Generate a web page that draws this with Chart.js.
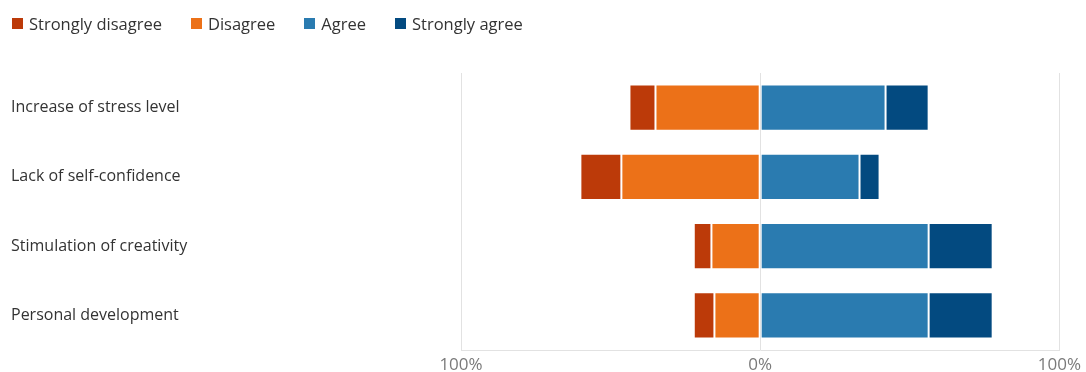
<!DOCTYPE html>
<html>
<head>
<meta charset="utf-8">
<script src="https://cdn.jsdelivr.net/npm/chart.js@4.4.1/dist/chart.umd.min.js"></script>
<style>
  html, body { margin: 0; padding: 0; background: #fff; }
  #wrap { position: relative; width: 1086px; height: 372px; }
  #legend { position: absolute; left: 12px; top: 12px; display: flex; font-family: "Open Sans", sans-serif; font-size: 16.5px; color: #333; }
  #legend .item { display: flex; align-items: center; margin-right: 29px; }
  #legend .box { width: 11px; height: 11px; margin-right: 6px; }
  canvas { position: absolute; left: 0; top: 0; }
</style>
</head>
<body>
<div id="wrap">
  <canvas id="c" width="1086" height="372"></canvas>
  <div id="legend"></div>
</div>
<script>
// Survey items, top to bottom
const categories = ["Increase of stress level", "Lack of self-confidence", "Stimulation of creativity", "Personal development"];

// Share of answers per item, in percent
const stronglyDisagree = [8.7, 13.7, 5.9, 6.9];
const disagree = [35.0, 46.4, 16.3, 15.3];
const agree = [41.9, 33.2, 56.3, 56.3];
const stronglyAgree = [14.4, 6.7, 21.4, 21.4];

const axisTicks = [-100, 0, 100];

const seriesNames = ["Strongly disagree", "Disagree", "Agree", "Strongly agree"];
const seriesColors = ["#bc3a09", "#ec7118", "#2a7bb0", "#034a80"];

// Legend in reading order
const legendEl = document.getElementById('legend');
seriesNames.forEach((name, i) => {
  const item = document.createElement('div');
  item.className = 'item';
  const box = document.createElement('span');
  box.className = 'box';
  box.style.background = seriesColors[i];
  const label = document.createElement('span');
  label.textContent = name;
  item.appendChild(box);
  item.appendChild(label);
  legendEl.appendChild(item);
});

const neg = arr => arr.map(v => -v);
const border = 'rgba(255,255,255,0.45)';

// Disagree sits next to zero, strongly disagree stacks outward from it
const datasets = [
  { label: seriesNames[1], data: neg(disagree), backgroundColor: seriesColors[1] },
  { label: seriesNames[0], data: neg(stronglyDisagree), backgroundColor: seriesColors[0] },
  { label: seriesNames[2], data: agree, backgroundColor: seriesColors[2] },
  { label: seriesNames[3], data: stronglyAgree, backgroundColor: seriesColors[3] }
].map(d => Object.assign(d, { borderColor: border, borderWidth: 1, borderSkipped: false, categoryPercentage: 1, barPercentage: 0.667 }));

new Chart(document.getElementById('c'), {
  type: 'bar',
  data: { labels: categories, datasets },
  options: {
    indexAxis: 'y',
    responsive: false,
    animation: false,
    layout: { padding: { left: 11, right: 25, top: 73, bottom: 0 } },
    plugins: { legend: { display: false }, tooltip: { enabled: false } },
    scales: {
      x: {
        stacked: true,
        min: -100,
        max: 100,
        afterBuildTicks: scale => { scale.ticks = axisTicks.map(v => ({ value: v })); },
        afterFit: scale => { scale.height = 22; },
        grid: { color: '#e2e2e2', lineWidth: 1, drawTicks: false },
        border: { display: true, color: '#e2e2e2' },
        ticks: {
          padding: 5,
          color: '#7a7a7a',
          font: { family: '"Open Sans", sans-serif', size: 17 },
          callback: v => Math.abs(v) + '%'
        }
      },
      y: {
        stacked: true,
        grid: { display: false, drawTicks: false },
        border: { display: false },
        afterFit: scale => { scale.width = 450; },
        ticks: {
          crossAlign: 'far',
          padding: 0,
          color: '#333',
          font: { family: '"Open Sans", sans-serif', size: 16 }
        }
      }
    }
  }
});
</script>
</body>
</html>
